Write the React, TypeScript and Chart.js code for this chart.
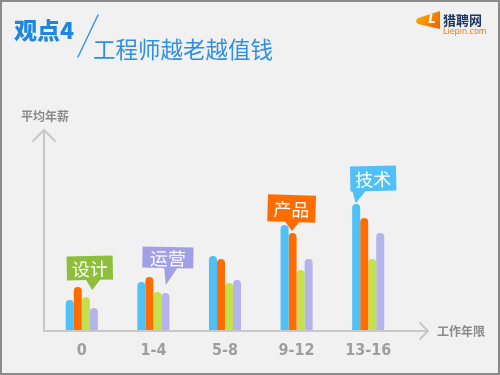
import React, { useEffect, useRef } from "react";
import { Chart, registerables } from "chart.js";

Chart.register(...registerables);

const categories = ["0", "1-4", "5-8", "9-12", "13-16"];
const seriesNames = ["技术", "产品", "设计", "运营"];
const techValues = [31, 49, 75, 106, 127];
const productValues = [44, 54, 72, 98, 113];
const designValues = [34, 39, 48, 61, 72];
const opsValues = [23, 38, 51, 72, 98];
const seriesColors = ["#4FC0F8", "#FF6C00", "#C4E04C", "#B4B3EC"];
const yAxisTitle = "平均年薪";
const xAxisTitle = "工作年限";
const mainTitle = "观点4";
const subTitle = "工程师越老越值钱";

const CJK = '"Noto Sans CJK SC", "Noto Sans", sans-serif';

const callouts = [
  { idx: 0, text: "设计", color: "#8DBE3C", x0: -15, x1: 31, y0: 256, y1: 280, b0: 4, b1: 18, tx: 10, ty: 290, rot: -0.02 },
  { idx: 1, text: "运营", color: "#A19FE6", x0: -11, x1: 40, y0: 247, y1: 268, b0: 11, b1: 24, tx: 13, ty: 285, rot: 0.02 },
  { idx: 3, text: "产品", color: "#FF6C00", x0: -29, x1: 19, y0: 195, y1: 222, b0: -11, b1: 3, tx: -4, ty: 231, rot: 0.03 },
  { idx: 4, text: "技术", color: "#4FC0F8", x0: -18, x1: 28, y0: 166, y1: 191, b0: -16, b1: -3, tx: -13, ty: 203, rot: -0.02 },
];

const decorPlugin = {
  id: "decor",
  beforeDraw(chart: any) {
    const { ctx, width, height } = chart;
    ctx.save();
    ctx.fillStyle = "#F1F1F1";
    ctx.fillRect(0, 0, width, height);
    ctx.strokeStyle = "#8A8A8A";
    ctx.lineWidth = 2;
    ctx.strokeRect(1, 1, width - 2, height - 2);
    ctx.restore();
  },
  afterDatasetsDraw(chart: any) {
    const { ctx, chartArea, scales } = chart;
    const xs = scales.x;
    const base = chartArea.bottom;
    ctx.save();
    ctx.strokeStyle = "#C8C8C8";
    ctx.lineWidth = 2;
    ctx.lineCap = "round";
    ctx.beginPath();
    ctx.moveTo(44, base);
    ctx.lineTo(44, 130);
    ctx.moveTo(33, 141);
    ctx.lineTo(44, 130);
    ctx.lineTo(55, 141);
    ctx.moveTo(44, base);
    ctx.lineTo(428, base);
    ctx.moveTo(420, base - 8);
    ctx.lineTo(428, base);
    ctx.lineTo(420, base + 8);
    ctx.stroke();

    ctx.fillStyle = "#8A8A8A";
    ctx.font = `bold 12px ${CJK}`;
    ctx.textBaseline = "middle";
    ctx.textAlign = "left";
    ctx.fillText(yAxisTitle, 21, 116);
    ctx.fillText(xAxisTitle, 437, base);

    ctx.fillStyle = "#9E9E9E";
    ctx.font = 'bold 16px "DejaVu Sans Condensed", "Liberation Sans Narrow", "Liberation Sans", sans-serif';
    ctx.textAlign = "center";
    categories.forEach((c, i) => {
      ctx.fillText(c, xs.getPixelForValue(i), 351);
    });

    callouts.forEach((co) => {
      const cx = xs.getPixelForValue(co.idx);
      const l = cx + co.x0, r = cx + co.x1;
      ctx.save();
      const mx = (l + r) / 2, my = (co.y0 + co.y1) / 2;
      ctx.translate(mx, my);
      ctx.rotate(co.rot);
      ctx.translate(-mx, -my);
      ctx.fillStyle = co.color;
      ctx.beginPath();
      ctx.moveTo(l, co.y0);
      ctx.lineTo(r, co.y0);
      ctx.lineTo(r, co.y1);
      ctx.lineTo(cx + co.b1, co.y1);
      ctx.lineTo(cx + co.tx, co.ty);
      ctx.lineTo(cx + co.b0, co.y1);
      ctx.lineTo(l, co.y1);
      ctx.closePath();
      ctx.fill();
      ctx.fillStyle = "#FFFFFF";
      ctx.font = `18px ${CJK}`;
      ctx.textAlign = "center";
      ctx.textBaseline = "middle";
      ctx.fillText(co.text, mx, my + 1);
      ctx.restore();
    });

    ctx.textAlign = "left";
    ctx.textBaseline = "alphabetic";
    ctx.fillStyle = "#1F86E0";
    ctx.font = `900 23px ${CJK}`;
    ctx.fillText(mainTitle, 14, 39);
    ctx.strokeStyle = "#3A96E8";
    ctx.lineWidth = 1.5;
    ctx.beginPath();
    ctx.moveTo(98, 15);
    ctx.lineTo(78, 57);
    ctx.stroke();
    ctx.fillStyle = "#2E8FE6";
    ctx.font = `22.5px ${CJK}`;
    ctx.fillText(subTitle, 93, 58);

    const g = ctx.createLinearGradient(417, 12, 440, 28);
    g.addColorStop(0, "#FFB000");
    g.addColorStop(1, "#F06000");
    ctx.fillStyle = g;
    ctx.beginPath();
    ctx.moveTo(440, 11);
    ctx.lineTo(440, 29);
    ctx.lineTo(418, 24);
    ctx.quadraticCurveTo(414, 21, 418, 18);
    ctx.closePath();
    ctx.fill();
    ctx.fillStyle = "#FFFFFF";
    ctx.font = 'bold italic 12px "DejaVu Sans", sans-serif';
    ctx.textAlign = "center";
    ctx.textBaseline = "middle";
    ctx.fillText("L", 432, 20);
    ctx.textAlign = "left";
    ctx.fillStyle = "#1E3566";
    ctx.font = `bold 13px ${CJK}`;
    ctx.fillText("猎聘网", 443, 20);
    ctx.fillStyle = "#F07A10";
    ctx.font = '8px "DejaVu Sans", sans-serif';
    ctx.fillText("Liepin.com", 443, 32);

    ctx.restore();
  },
};

export default function App() {
  const ref = useRef<HTMLCanvasElement>(null);
  useEffect(() => {
    document.body.style.margin = "0";
    const values = [techValues, productValues, designValues, opsValues];
    const chart = new Chart(ref.current as HTMLCanvasElement, {
      type: "bar",
      data: {
        labels: categories,
        datasets: seriesNames.map((n, i) => ({
          label: n,
          data: values[i],
          backgroundColor: seriesColors[i],
          borderRadius: { topLeft: 4, topRight: 4, bottomLeft: 0, bottomRight: 0 },
          borderSkipped: false,
          categoryPercentage: 0.448,
          barPercentage: 1.0,
        })),
      },
      options: {
        animation: false,
        responsive: false,
        maintainAspectRatio: false,
        layout: { padding: { left: 46, right: 96, top: 131, bottom: 44 } },
        plugins: { legend: { display: false }, tooltip: { enabled: false } },
        scales: {
          x: { display: false },
          y: { display: false, min: 0, max: 200 },
        },
      },
      plugins: [decorPlugin],
    });
    return () => chart.destroy();
  }, []);
  return <canvas ref={ref} width={500} height={375} style={{ display: "block" }} />;
}
